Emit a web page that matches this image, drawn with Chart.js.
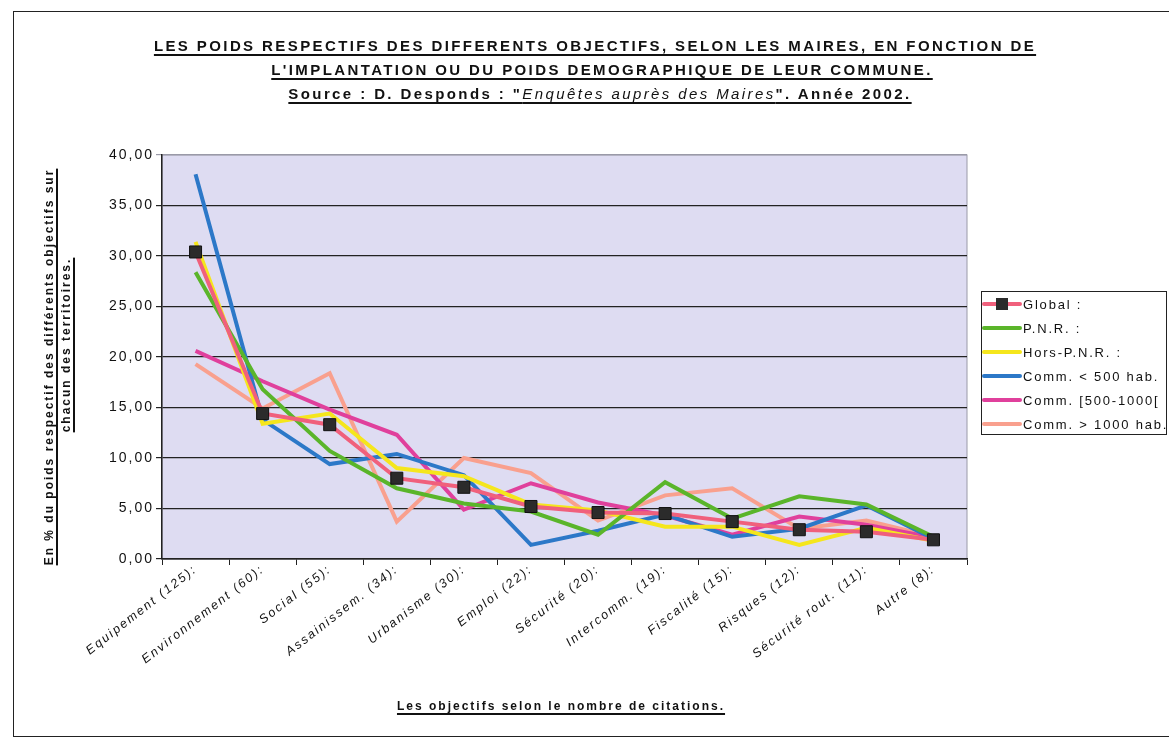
<!DOCTYPE html>
<html lang="fr">
<head>
<meta charset="utf-8">
<title>Poids respectifs des objectifs selon les maires</title>
<script src="https://cdn.jsdelivr.net/npm/chart.js@4.4.1/dist/chart.umd.min.js"></script>
<style>
  body { margin: 0; background: #fff; font-family: "Liberation Sans", Arial, sans-serif; color: #111; }
  #wrap { position: relative; width: 1169px; height: 742px; overflow: hidden; }
  #frame { position: absolute; left: 13px; top: 11px; width: 1180px; height: 726px; border: 1.5px solid #222; box-sizing: border-box; }
  #chart { position: absolute; left: 0; top: 0; }
  .t { position: absolute; white-space: nowrap; font-weight: bold; text-decoration: underline; text-decoration-thickness: 2px; text-underline-offset: 3px; transform: translateX(-50%); }
  .title { font-size: 15px; letter-spacing: 2.4px; }
  .title i { font-weight: normal; }
  .axis { font-size: 12px; letter-spacing: 2px; }
  .rot { transform: translate(-50%, -50%) rotate(-90deg); }
  #legend { position: absolute; left: 981px; top: 291px; width: 186px; height: 144px; border: 1.5px solid #222; box-sizing: border-box; background: #fff; }
  .row { height: 24px; display: flex; align-items: center; font-size: 13px; letter-spacing: 1.8px; white-space: nowrap; }
  .sw { position: relative; width: 40px; height: 4px; border-radius: 2px; margin-right: 1px; flex: none; }
  .sw b { position: absolute; left: 14px; top: -4px; width: 12px; height: 12px; background: #2b2b2b; }
</style>
</head>
<body>
<div id="wrap">
  <div id="frame"></div>
  <canvas id="chart" width="1169" height="742"></canvas>

  <div class="t title" style="left:595px; top:37px;">LES POIDS RESPECTIFS DES DIFFERENTS OBJECTIFS, SELON LES MAIRES, EN FONCTION DE</div>
  <div class="t title" style="left:602px; top:61px;">L'IMPLANTATION OU DU POIDS DEMOGRAPHIQUE DE LEUR COMMUNE.</div>
  <div class="t title" style="left:600px; top:85px;">Source : D. Desponds : "<i>Enquêtes auprès des Maires</i>". Année 2002.</div>

  <div class="t axis rot" style="left:49px; top:367px;">En % du poids respectif des différents objectifs sur</div>
  <div class="t axis rot" style="left:66px; top:345px;">chacun des territoires.</div>
  <div class="t axis" style="left:561px; top:699px;">Les objectifs selon le nombre de citations.</div>

  <div id="legend"></div>
</div>

<script>
const categories = ['Equipement (125):', 'Environnement (60):', 'Social (55):', 'Assainissem. (34):', 'Urbanisme (30):',
  'Emploi (22):', 'Sécurité (20):', 'Intercomm. (19):', 'Fiscalité (15):', 'Risques (12):', 'Sécurité rout. (11):', 'Autre (8):'];

const globalVals = [30.4, 14.4, 13.3, 8.0, 7.1, 5.2, 4.6, 4.5, 3.7, 2.9, 2.7, 1.9];
const pnrVals    = [28.4, 16.8, 10.7, 7.0, 5.5, 4.7, 2.4, 7.6, 4.0, 6.2, 5.4, 2.2];
const horsVals   = [31.4, 13.4, 14.4, 9.0, 8.2, 5.4, 4.8, 3.2, 3.2, 1.4, 3.1, 1.8];
const moins500   = [38.1, 13.8, 9.4, 10.4, 8.3, 1.4, 2.8, 4.4, 2.2, 3.0, 5.3, 2.0];
const de500a1000 = [20.6, 17.6, 14.8, 12.3, 4.9, 7.5, 5.6, 4.3, 2.4, 4.2, 3.4, 2.1];
const plus1000   = [19.3, 14.9, 18.4, 3.7, 10.0, 8.5, 3.8, 6.3, 7.0, 3.0, 3.8, 2.2];

const seriesNames = ['Global :', 'P.N.R. :', 'Hors-P.N.R. :', 'Comm. < 500 hab.', 'Comm. [500-1000[', 'Comm. > 1000 hab.'];
const seriesColors = ['#f0607c', '#5ab52a', '#f5e61c', '#2c78c8', '#e0409c', '#f9a08e'];
const yTicks = [0, 5, 10, 15, 20, 25, 30, 35, 40];

const fontFamily = '"Liberation Sans", Arial, sans-serif';
const allValues = [globalVals, pnrVals, horsVals, moins500, de500a1000, plus1000];

const datasets = allValues.map((vals, i) => ({
  label: seriesNames[i],
  data: vals,
  borderColor: seriesColors[i],
  backgroundColor: seriesColors[i],
  borderWidth: 4,
  tension: 0,
  pointRadius: i === 0 ? 8.5 : 0,
  pointStyle: 'rect',
  pointBackgroundColor: '#2b2b2b',
  pointBorderColor: '#111',
  pointBorderWidth: 1
}));

// lavender plot area + spaced-out text like the scanned original
const plotBackground = {
  id: 'plotBackground',
  beforeDraw(chart) {
    const { ctx, chartArea: a } = chart;
    ctx.letterSpacing = '2px';
    ctx.save();
    ctx.fillStyle = '#dedcf2';
    ctx.fillRect(a.left, a.top, a.right - a.left, a.bottom - a.top);
    ctx.strokeStyle = '#9a9aa8';
    ctx.lineWidth = 1;
    ctx.strokeRect(a.left, a.top, a.right - a.left, a.bottom - a.top);
    ctx.restore();
  }
};

new Chart(document.getElementById('chart').getContext('2d'), {
  type: 'line',
  data: { labels: categories, datasets },
  options: {
    responsive: false,
    animation: false,
    layout: { padding: { top: 155, right: 202, left: 0, bottom: 0 } },
    plugins: { legend: { display: false }, title: { display: false }, tooltip: { enabled: false } },
    scales: {
      x: {
        offset: true,
        grid: { offset: true, drawOnChartArea: false, color: '#222', tickLength: 6 },
        border: { color: '#222', width: 1.5 },
        ticks: { autoSkip: false, minRotation: 38, maxRotation: 38, color: '#111', padding: -3,
                 font: { family: fontFamily, size: 12.5, style: 'italic' } },
        afterFit: s => { s.height = 742 - 559; }
      },
      y: {
        min: 0, max: 40,
        afterBuildTicks: s => { s.ticks = yTicks.map(v => ({ value: v })); },
        grid: { color: c => c.tick && c.tick.value === 40 ? '#9a9aa8' : '#222', lineWidth: 1.2, tickLength: 6 },
        border: { color: '#222', width: 1.5 },
        ticks: { color: '#111', padding: 2, font: { family: fontFamily, size: 14 },
                 callback: v => v.toFixed(2).replace('.', ',') },
        afterFit: s => { s.width = 162; }
      }
    }
  },
  plugins: [plotBackground]
});

// legend box, built from the same series names and colours
const legend = document.getElementById('legend');
seriesNames.forEach((name, i) => {
  const row = document.createElement('div');
  row.className = 'row';
  const sw = document.createElement('span');
  sw.className = 'sw';
  sw.style.background = seriesColors[i];
  if (i === 0) sw.appendChild(document.createElement('b'));
  row.appendChild(sw);
  row.appendChild(document.createTextNode(name));
  legend.appendChild(row);
});
</script>
</body>
</html>
